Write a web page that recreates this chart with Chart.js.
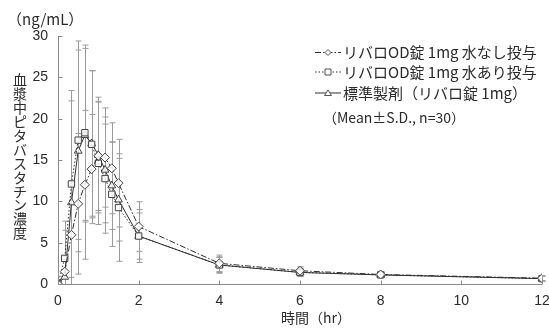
<!DOCTYPE html>
<html><head><meta charset="utf-8">
<script src="https://cdn.jsdelivr.net/npm/chart.js@4/dist/chart.umd.min.js"></script>
<style>html,body{margin:0;padding:0;background:#fff}#w{width:549px;height:328px}</style>
</head><body><div id="w"><canvas id="c"></canvas></div>
<script>
const times = [0, 1/6, 1/3, 0.5, 2/3, 5/6, 1, 7/6, 4/3, 1.5, 2, 4, 6, 8, 12];
const odNoWater = [0, 1.5, 5.95, 9.7, 12.0, 13.9, 15.5, 15.3, 14.0, 12.2, 6.95, 2.5, 1.6, 1.15, 0.7];
const odNoWaterSD = [0, 5.0, 6.0, 8.5, 9.0, 6.6, 6.6, 6.0, 5.5, 5.3, 3.0, 1.0, 0.5, 0.3, 0.3];
const odWater = [0, 3.1, 12.1, 17.4, 18.3, 16.9, 14.6, 12.75, 10.85, 9.25, 5.8, 2.3, 1.4, 1.1, 0.65];
const odWaterSD = [0, 4.5, 11.3, 12.0, 10.6, 8.9, 7.4, 6.6, 6.3, 6.5, 3.2, 1.0, 0.5, 0.3, 0.3];
const standard = [0, 0.85, 9.85, 16.1, 18.0, 17.0, 15.6, 13.8, 11.9, 10.2, 5.8, 2.3, 1.4, 1.1, 0.65];
const standardSD = [0, 2.5, 12.3, 12.2, 10.5, 8.8, 7.0, 6.4, 5.3, 5.0, 2.8, 0.9, 0.5, 0.3, 0.3];
const seriesNames = ['リバロOD錠 1mg 水なし投与', 'リバロOD錠 1mg 水あり投与', '標準製剤（リバロ錠 1mg）'];
const xTicks = [0, 2, 4, 6, 8, 10, 12];
const yTicks = [0, 5, 10, 15, 20, 25, 30];
const yTitle = '血漿中ピタバスタチン濃度';
const unitLabel = '（ng/mL）';
const xTitle = '時間（hr）';
const noteLabel = '（Mean±S.D., n=30）';

const JP = '"Noto Sans CJK JP", "Liberation Sans", sans-serif';
const NUM = '"Liberation Sans", Arial, sans-serif';
const LINE = '#2e2e2e';
const ERR = '#9a9a9a';
const AX = '#8a8a8a';
const TXT = '#2a2a2a';

const mk = (vals) => times.map((t, i) => ({x: t, y: vals[i]}));
const sds = [odNoWaterSD, odWaterSD, standardSD];
const dashes = [[6, 2, 1.5, 2], [1.5, 2], []];
const styles = ['rectRot', 'rect', 'triangle'];

const errPlugin = {
  id: 'err',
  beforeDatasetsDraw(chart) {
    const ctx = chart.ctx, xs = chart.scales.x, ys = chart.scales.y;
    ctx.save();
    ctx.strokeStyle = ERR; ctx.lineWidth = 1;
    chart.data.datasets.forEach((ds, di) => {
      ds.data.forEach((p, i) => {
        const sd = sds[di][i];
        if (!sd) return;
        const x = Math.round(xs.getPixelForValue(p.x)) + 0.5;
        const yt = ys.getPixelForValue(p.y + sd);
        const yb = ys.getPixelForValue(Math.max(0, p.y - sd));
        ctx.beginPath();
        ctx.moveTo(x, yt); ctx.lineTo(x, yb);
        ctx.moveTo(x - 3, yt); ctx.lineTo(x + 3, yt);
        if (p.y - sd > 0) { ctx.moveTo(x - 3, yb); ctx.lineTo(x + 3, yb); }
        ctx.stroke();
      });
    });
    ctx.restore();
  },
  afterDraw(chart) {
    const ctx = chart.ctx, xs = chart.scales.x, ys = chart.scales.y, a = chart.chartArea;
    ctx.save();
    ctx.strokeStyle = AX; ctx.lineWidth = 1;
    ctx.beginPath();
    const lx = Math.round(a.left) + 0.5, by = Math.round(a.bottom) + 0.5;
    ctx.moveTo(lx, a.top); ctx.lineTo(lx, by); ctx.lineTo(a.right, by);
    yTicks.forEach(v => { const y = Math.round(ys.getPixelForValue(v)) + 0.5; ctx.moveTo(lx, y); ctx.lineTo(lx + 4, y); });
    xTicks.forEach(v => { const x = Math.round(xs.getPixelForValue(v)) + 0.5; ctx.moveTo(x, by); ctx.lineTo(x, by - 4); });
    ctx.stroke();
    ctx.fillStyle = TXT;
    ctx.font = '15px ' + JP;
    ctx.textAlign = 'left'; ctx.textBaseline = 'middle';
    ctx.fillText(unitLabel, 7, 19);
    ctx.font = '14px ' + JP;
    ctx.textAlign = 'center';
    [...yTitle].forEach((ch, i) => ctx.fillText(ch, 20, 80 + i * 13.9));
    const rows = [52.5, 72, 93];
    ctx.font = '15px ' + JP;
    rows.forEach((y, i) => {
      ctx.strokeStyle = LINE; ctx.lineWidth = 1; ctx.setLineDash(dashes[i]);
      ctx.beginPath(); ctx.moveTo(315, y); ctx.lineTo(341, y); ctx.stroke();
      ctx.setLineDash([]);
      ctx.fillStyle = '#fff'; ctx.strokeStyle = '#555';
      const cx = 328;
      ctx.beginPath();
      if (i === 0) { ctx.moveTo(cx, y - 3); ctx.lineTo(cx + 3, y); ctx.lineTo(cx, y + 3); ctx.lineTo(cx - 3, y); ctx.closePath(); }
      else if (i === 1) { ctx.rect(cx - 3, y - 3, 6, 6); }
      else { ctx.moveTo(cx, y - 3); ctx.lineTo(cx + 3.5, y + 2.5); ctx.lineTo(cx - 3.5, y + 2.5); ctx.closePath(); }
      ctx.fill(); ctx.stroke();
      ctx.fillStyle = TXT; ctx.textAlign = 'left';
      ctx.fillText(seriesNames[i], 343, y);
    });
    ctx.font = '14px ' + JP;
    ctx.fillText(noteLabel, 323, 118);
    ctx.font = '14px ' + JP;
    ctx.textAlign = 'center';
    ctx.fillText(xTitle, 316, 318);
    ctx.restore();
  }
};

new Chart(document.getElementById('c'), {
  type: 'line',
  data: {
    datasets: [
      {label: seriesNames[0], data: mk(odNoWater)},
      {label: seriesNames[1], data: mk(odWater)},
      {label: seriesNames[2], data: mk(standard)}
    ].map((d, i) => Object.assign(d, {
      borderColor: LINE, borderWidth: 1, borderDash: dashes[i],
      pointStyle: styles[i], pointRadius: 4.5, pointBorderWidth: 1,
      pointBackgroundColor: 'rgba(255,255,255,0.85)', pointBorderColor: '#444',
      tension: 0, fill: false
    }))
  },
  options: {
    responsive: true, maintainAspectRatio: false, animation: false,
    layout: {padding: {left: 0, right: 7, top: 36, bottom: 0}},
    plugins: {legend: {display: false}, tooltip: {enabled: false}},
    scales: {
      x: {
        type: 'linear', min: 0, max: 12,
        afterBuildTicks: s => { s.ticks = xTicks.map(v => ({value: v})); },
        afterFit: s => { s.height = 44; s.paddingRight = 0; s.paddingLeft = 0; },
        border: {display: false}, grid: {display: false, drawTicks: false},
        ticks: {padding: 9, color: TXT, font: {family: NUM, size: 14}, maxRotation: 0}
      },
      y: {
        min: 0, max: 30,
        afterBuildTicks: s => { s.ticks = yTicks.map(v => ({value: v})); },
        afterFit: s => { s.width = 58; s.paddingTop = 0; s.paddingBottom = 0; },
        border: {display: false}, grid: {display: false, drawTicks: false},
        ticks: {padding: 10, color: TXT, font: {family: NUM, size: 14}}
      }
    }
  },
  plugins: [errPlugin]
});
</script></body></html>
